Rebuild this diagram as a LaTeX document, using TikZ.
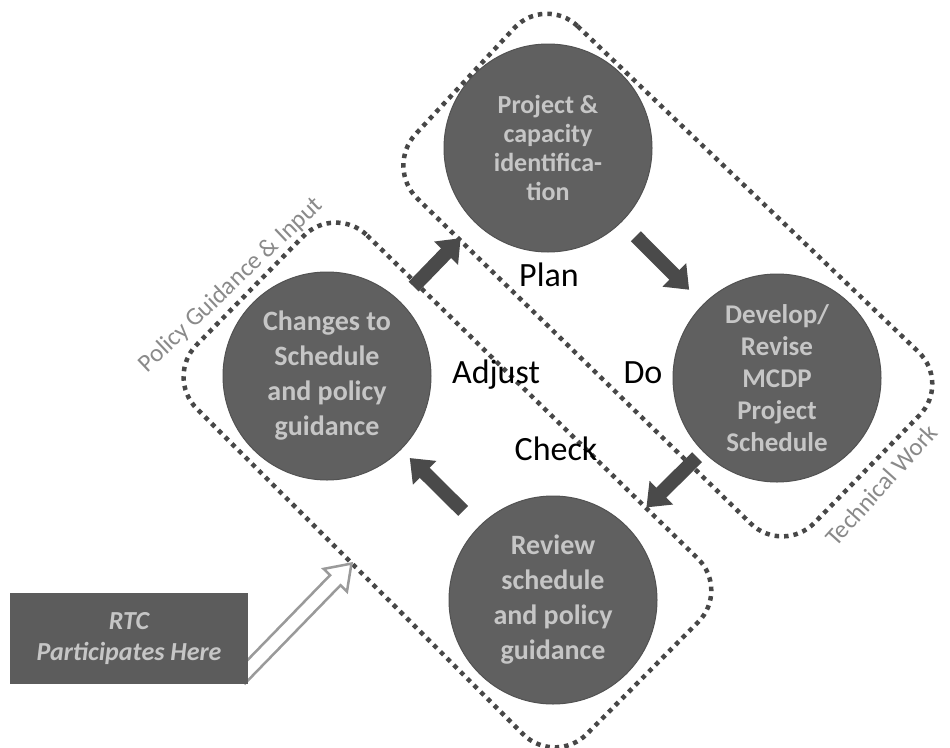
\documentclass[tikz,border=0pt]{standalone}
\usepackage{fontspec}
\setmainfont{Carlito}
\usetikzlibrary{arrows.meta,shapes.arrows}
\definecolor{circfill}{HTML}{606060}
\definecolor{circtext}{HTML}{C6C6C6}
\definecolor{arrowfill}{HTML}{4A4A4A}
\definecolor{dotcol}{HTML}{474747}
\definecolor{zonetext}{HTML}{8A8A8A}
\definecolor{hollow}{HTML}{9A9A9A}
\definecolor{boxfill}{HTML}{5C5C5C}
\begin{document}
\begin{tikzpicture}[x=1pt,y=-1pt,
  stage/.style={circle, fill=circfill, draw=circfill!85!black, line width=1pt,
    minimum size=208pt, inner sep=0pt, align=center, text=circtext},
  phase/.style={font=\fontsize{34}{40}\selectfont, text=black, inner sep=0pt},
  flow/.style={draw=arrowfill, line width=14pt, -{Triangle[width=32pt,length=21pt]}},
  zone/.style={draw=dotcol, line width=4.5pt, dash pattern=on 4.5pt off 5pt, rounded corners=45pt},
  zonelabel/.style={font=\fontsize{25}{30}\selectfont, text=zonetext, inner sep=0pt}]
\useasboundingbox (0,0) rectangle (950,747);
\fill[white] (0,0) rectangle (950,747);

% dotted zones
\draw[zone] (545,-5) -- (951,383) -- (783,555) -- (385,167) -- cycle;
\draw[zone] (335,204) -- (730,590) -- (555,766) -- (165,377) -- cycle;

% zone labels
\node[zonelabel, rotate=43.5] (pglabel) at (231,285) {Policy Guidance \& Input};
\node[zonelabel, rotate=48] (twlabel) at (881,485) {Technical Work};

% stages
\node[stage, font=\bfseries\fontsize{26}{29}\selectfont] (plan) at (548,148)
  {Project \&\\capacity\\identifica-\\tion};
\node[stage, font=\bfseries\fontsize{27}{32}\selectfont] (do) at (777,378)
  {Develop/\\Revise\\MCDP\\Project\\Schedule};
\node[stage, font=\bfseries\fontsize{28}{35}\selectfont] (check) at (553,600)
  {Review\\schedule\\and policy\\guidance};
\node[stage, font=\bfseries\fontsize{28}{35}\selectfont] (adjust) at (327,376)
  {Changes to\\Schedule\\and policy\\guidance};

% phase labels
\node[phase] (planlbl) at (549,275) {Plan};
\node[phase, anchor=base] (adjlbl) at (496,383) {Adjust};
\node[phase, anchor=base] (dolbl) at (643,383) {Do};
\node[phase, anchor=base] (chklbl) at (556,460) {Check};

% cycle arrows
\draw[flow, shorten <=20pt, shorten >=21pt] (adjust) -- (plan);
\draw[flow, shorten <=20pt, shorten >=20pt] (plan) -- (do);
\draw[flow, shorten <=8pt, shorten >=27pt] (do) -- (check);
\draw[flow, shorten <=22pt, shorten >=12pt] (check) -- (adjust);

% RTC hollow arrow and box
\node[single arrow, draw=hollow, fill=white, line width=2.5pt, inner sep=6pt,
  minimum height=160pt, single arrow head extend=9pt, single arrow tip angle=70,
  rotate=45.8, anchor=tip] (rtcarrow) at (353,562) {};
\node[rectangle, fill=boxfill, minimum width=238pt, minimum height=91pt, inner sep=0pt,
  text=circtext, align=center, font=\bfseries\itshape\fontsize{26}{31}\selectfont]
  (rtc) at (129,638.5) {RTC\\Participates Here};
\end{tikzpicture}
\end{document}
